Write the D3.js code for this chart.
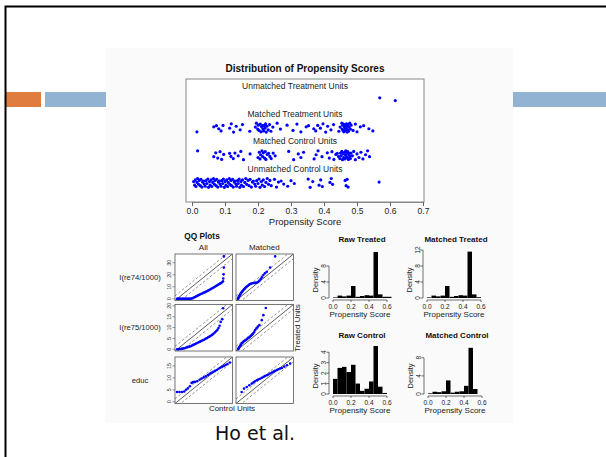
<!DOCTYPE html>
<html>
<head>
<meta charset="utf-8">
<script src="https://cdn.jsdelivr.net/npm/d3@7.9.0/dist/d3.min.js"></script>
<style>
  body { margin: 0; background: #fff; }
  svg { display: block; font-family: "Liberation Sans", Arial, Helvetica, sans-serif; }
</style>
</head>
<body>
<svg id="slide" width="606" height="457"></svg>
<script>
// ---- propensity score strip chart ----
const groupLabels = ['Unmatched Control Units', 'Matched Control Units', 'Matched Treatment Units', 'Unmatched Treatment Units'];
const scoreTicks = [0, 0.1, 0.2, 0.3, 0.4, 0.5, 0.6, 0.7];

const unmatchedTreated = [0.569, 0.616];
const matchedTreated = [0.015, 0.066, 0.074, 0.081, 0.088, 0.094, 0.114, 0.119, 0.126, 0.134, 0.146, 0.153, 0.175,
  0.192, 0.195, 0.199, 0.201, 0.203, 0.207, 0.209, 0.211, 0.213, 0.215, 0.217, 0.219, 0.221, 0.223, 0.225, 0.227,
  0.231, 0.235, 0.239, 0.245, 0.258, 0.268, 0.288, 0.306, 0.318, 0.330, 0.346, 0.353, 0.369, 0.375, 0.381, 0.389,
  0.397, 0.405, 0.411, 0.421, 0.429, 0.445, 0.449, 0.454, 0.455, 0.457, 0.458, 0.459, 0.460, 0.462, 0.463, 0.464,
  0.465, 0.466, 0.467, 0.468, 0.470, 0.471, 0.472, 0.473, 0.474, 0.476, 0.478, 0.480, 0.482, 0.488, 0.495, 0.500,
  0.510, 0.520, 0.536, 0.548];
const matchedControl = [0.017, 0.066, 0.072, 0.078, 0.085, 0.090, 0.096, 0.114, 0.118, 0.125, 0.130, 0.140, 0.148,
  0.156, 0.176, 0.200, 0.204, 0.206, 0.208, 0.212, 0.214, 0.216, 0.220, 0.222, 0.224, 0.228, 0.232, 0.236, 0.240,
  0.246, 0.252, 0.293, 0.308, 0.322, 0.330, 0.338, 0.370, 0.376, 0.382, 0.394, 0.410, 0.416, 0.424, 0.430, 0.436,
  0.440, 0.444, 0.448, 0.450, 0.452, 0.454, 0.456, 0.458, 0.460, 0.462, 0.463, 0.465, 0.466, 0.468, 0.469, 0.471,
  0.472, 0.474, 0.475, 0.477, 0.478, 0.480, 0.482, 0.486, 0.490, 0.495, 0.500, 0.506, 0.512, 0.518, 0.526, 0.532, 0.538];
const unmatchedControl = [0.005, 0.008, 0.010, 0.012, 0.015, 0.017, 0.020, 0.022, 0.025, 0.027, 0.030, 0.032, 0.035,
  0.037, 0.040, 0.042, 0.045, 0.048, 0.050, 0.053, 0.055, 0.058, 0.060, 0.063, 0.065, 0.068, 0.070, 0.073, 0.075,
  0.078, 0.080, 0.083, 0.085, 0.088, 0.090, 0.093, 0.095, 0.098, 0.100, 0.103, 0.105, 0.108, 0.110, 0.113, 0.115,
  0.118, 0.120, 0.123, 0.125, 0.128, 0.130, 0.133, 0.135, 0.138, 0.140, 0.143, 0.145, 0.148, 0.150, 0.153, 0.156,
  0.160, 0.163, 0.166, 0.170, 0.173, 0.176, 0.180, 0.183, 0.186, 0.190, 0.193, 0.196, 0.200, 0.203, 0.206, 0.210,
  0.213, 0.216, 0.220, 0.224, 0.228, 0.232, 0.236, 0.240, 0.250, 0.256, 0.262, 0.270, 0.278, 0.290, 0.300, 0.310,
  0.352, 0.358, 0.366, 0.385, 0.390, 0.395, 0.418, 0.422, 0.426, 0.464, 0.467, 0.470, 0.473, 0.567];
// vertical jitter of the strip points, in row units
const jitter = [-0.12, 0.08, -0.02, 0.14, -0.16, 0.05, -0.08, 0.11, -0.13, 0.02, 0.16, -0.05, 0.09, -0.1, 0.13, -0.15, 0.03, 0.07, -0.04];

// ---- QQ plots: [control quantile, treated quantile] ----
const qqVars = ['I(re74/1000)', 'I(re75/1000)', 'educ'];
const qqColumns = ['All', 'Matched'];
const qqLimits = [[-1.4, 37.2], [-0.8, 20.6], [-0.72, 18.72]];
const qqTicks = [[0, 10, 20, 30], [0, 5, 10, 15, 20], [0, 5, 10, 15]];
const qqAllRe74 = [[0, 0], [0.5, 0], [1, 0], [1.5, 0], [2, 0], [2.6, 0], [3.2, 0], [3.8, 0], [4.4, 0], [5, 0], [5.6, 0],
  [6.2, 0], [6.8, 0], [7.4, 0], [8, 0], [8.6, 0], [9.2, 0], [9.8, 0.2], [10.5, 0.5], [11.2, 1], [12, 1.5], [12.8, 2],
  [13.6, 2.5], [14.4, 3], [15.2, 3.5], [16, 4], [16.8, 4.4], [17.6, 4.9], [18.4, 5.3], [19.2, 5.8], [20, 6.3], [20.8, 6.8],
  [21.6, 7.3], [22.4, 7.9], [23.2, 8.5], [24, 9], [24.8, 9.6], [25.6, 10.2], [26.4, 10.8], [27.2, 11.4], [28, 12],
  [28.8, 12.6], [29.5, 13.1], [30.2, 13.8], [30.8, 14.6], [31, 16.9], [31.2, 20.3], [31.4, 25.9], [31.4, 35.2]];
const qqMatchedRe74 = [[0, 0], [0, 0.3], [0.2, 0.8], [0.5, 1.5], [0.8, 2.2], [1.1, 3], [1.5, 3.8], [1.9, 4.6], [2.4, 5.5],
  [2.9, 6.3], [3.4, 7.1], [4, 7.9], [4.6, 8.7], [5.2, 9.5], [5.9, 10.2], [6.6, 10.9], [7.3, 11.6], [8, 12.2], [8.8, 12.6],
  [9.6, 12.9], [10.4, 13.1], [11.2, 13.2], [12, 13.3], [12.8, 13.6], [13.6, 14.1], [14.4, 15.2], [15.2, 16.4], [16, 17.8],
  [17, 19.7], [18, 21.2], [19.3, 22.5], [21.5, 25.9], [24.9, 35.2]];
const qqAllRe75 = [[0, 0], [0.3, 0], [0.6, 0], [0.9, 0.1], [1.2, 0.1], [1.6, 0.2], [2, 0.3], [2.5, 0.4], [3, 0.6], [3.5, 0.8],
  [4, 1], [4.5, 1.2], [5, 1.4], [5.5, 1.7], [6, 2], [6.5, 2.3], [7, 2.6], [7.5, 2.9], [8, 3.2], [8.5, 3.5], [9, 3.8],
  [9.5, 4.1], [10, 4.4], [10.5, 4.8], [11, 5.1], [11.5, 5.5], [12, 5.8], [12.5, 6.2], [13, 6.6], [13.5, 7.1], [14, 7.7],
  [14.5, 8.3], [15, 9], [15.4, 9.8], [15.8, 10.8], [16.2, 12.6], [16.8, 13.8], [17.1, 18.9]];
const qqMatchedRe75 = [[0, 0], [0.1, 0.3], [0.3, 0.7], [0.5, 1.1], [0.8, 1.6], [1, 2.1], [1.3, 2.6], [1.6, 3], [1.9, 3.4],
  [2.3, 3.8], [2.7, 4.1], [3.1, 4.5], [3.5, 4.9], [3.9, 5.3], [4.3, 5.7], [4.7, 6.1], [5.1, 6.6], [5.5, 7.1], [5.9, 7.8],
  [6.3, 8.8], [6.8, 9.6], [7.3, 10.4], [7.9, 11.1], [8.8, 13.4], [9.4, 15.7], [10.3, 19]];
const qqAllEduc = [[0, 4.1], [0.8, 4.1], [1.6, 4.1], [2.4, 4.3], [3, 5], [3.6, 5.6], [4.3, 6.5], [4.9, 7.9], [5.4, 8.2],
  [6, 8.3], [6.8, 8.6], [7.6, 9.2], [8.3, 9.7], [9, 10.2], [9.7, 10.6], [10.4, 11.2], [11, 11.7], [11.6, 12.1], [12.2, 12.5],
  [12.8, 12.9], [13.4, 13.3], [14, 13.8], [14.6, 14.2], [15.2, 14.6], [15.8, 15], [16.4, 15.4], [17, 15.8], [17.8, 16.4]];
const qqMatchedEduc = [[1.2, 4.1], [2, 5.5], [2.9, 6.2], [3.8, 6.9], [4.6, 7.6], [5.2, 8.1], [5.7, 8.6], [6.3, 9], [6.8, 9.3],
  [7.4, 9.6], [8, 10], [8.6, 10.4], [9.1, 10.8], [9.7, 11.1], [10.2, 11.4], [10.8, 11.8], [11.4, 12.2], [12, 12.6],
  [12.5, 12.9], [13.1, 13.3], [13.6, 13.6], [14.2, 13.9], [14.8, 14.1], [15.6, 14.7], [16.5, 15.3], [17.6, 16]];
const qqData = [[qqAllRe74, qqMatchedRe74], [qqAllRe75, qqMatchedRe75], [qqAllEduc, qqMatchedEduc]];

// ---- histograms (density per 0.05 bin, starting at 0) ----
const histTitles = ['Raw Treated', 'Matched Treated', 'Raw Control', 'Matched Control'];
const binWidth = 0.05;
const rawTreatedDensity = [0.15, 0.6, 0.4, 0.6, 3.0, 0.3, 0.5, 0.7, 0.6, 11.5, 0.9, 0.3, 0.3];
const matchedTreatedDensity = [0.15, 0.6, 0.4, 0.6, 3.0, 0.3, 0.5, 0.7, 0.6, 11.6, 0.9, 0.2];
const rawControlDensity = [1.45, 2.5, 2.6, 2.1, 2.8, 1.0, 0.3, 0.5, 1.2, 4.6, 0.7, 0.1];
const matchedControlDensity = [0.15, 0.5, 0.4, 0.6, 3.0, 0.3, 0.5, 0.6, 1.8, 10.2, 1.1];
const histDensities = [rawTreatedDensity, matchedTreatedDensity, rawControlDensity, matchedControlDensity];
const histYTicks = [[0, 4, 8], [0, 4, 8, 12], [0, 1, 2, 3, 4], [0, 4, 8]];
const histYMax = [12, 12, 4.6, 10.6];
const histXTicks = [0, 0.2, 0.4, 0.6];

const svg = d3.select('#slide');
const blue = '#0000ff';

// slide frame and decorations
svg.append('rect').attr('x', 106).attr('y', 48).attr('width', 407).attr('height', 375).attr('fill', '#fafafa');
svg.append('rect').attr('x', 6).attr('y', 92).attr('width', 35).attr('height', 15).attr('fill', '#e07c3e');
svg.append('rect').attr('x', 45).attr('y', 92).attr('width', 61).attr('height', 15).attr('fill', '#93b3d3');
svg.append('rect').attr('x', 513).attr('y', 92).attr('width', 93).attr('height', 15).attr('fill', '#93b3d3');
svg.append('path').attr('d', 'M5.5,457V6.5H606').attr('fill', 'none').attr('stroke', '#000').attr('stroke-width', 2);

// ---------- strip chart ----------
const box = { left: 186, right: 424, top: 79, bottom: 202 };
const x = d3.scaleLinear().domain([0, 0.7]).range([192, 423]);
const y = d3.scaleLinear().domain([0.31, 4.76]).range([box.bottom, box.top]);
const groups = [
  { label: groupLabels[0], values: unmatchedControl, row: 1 },
  { label: groupLabels[1], values: matchedControl, row: 2 },
  { label: groupLabels[2], values: matchedTreated, row: 3 },
  { label: groupLabels[3], values: unmatchedTreated, row: 4 },
];

svg.append('rect')
  .attr('x', box.left).attr('y', box.top)
  .attr('width', box.right - box.left).attr('height', box.bottom - box.top)
  .attr('fill', '#fff').attr('stroke', '#888');

svg.append('text')
  .attr('x', 305).attr('y', 68).attr('text-anchor', 'middle').attr('dominant-baseline', 'central')
  .attr('font-size', 10).attr('font-weight', 'bold').attr('fill', '#111')
  .text('Distribution of Propensity Scores');

groups.forEach(g => {
  svg.append('text')
    .attr('x', 295).attr('y', y(g.row + 0.5))
    .attr('text-anchor', 'middle').attr('dominant-baseline', 'central')
    .attr('font-size', 8.5).attr('fill', '#222')
    .text(g.label);

  svg.append('g').selectAll('circle')
    .data(g.values)
    .join('circle')
    .attr('cx', d => x(d))
    .attr('cy', (d, i) => y(g.row + jitter[(i + g.row * 5) % jitter.length]))
    .attr('r', 1.6)
    .attr('fill', blue);
});

const xAxis = svg.append('g')
  .attr('transform', `translate(0,${box.bottom})`)
  .call(d3.axisBottom(x).tickValues(scoreTicks).tickSize(4).tickSizeOuter(0).tickFormat(d3.format('.1f')));
xAxis.select('.domain').attr('stroke', '#888');
xAxis.selectAll('.tick line').attr('stroke', '#666');
xAxis.selectAll('.tick text').attr('font-size', 8.5).attr('fill', '#222').attr('dy', '0.55em');

svg.append('text')
  .attr('x', 305).attr('y', 221).attr('text-anchor', 'middle').attr('dominant-baseline', 'central')
  .attr('font-size', 9.5).attr('fill', '#222')
  .text('Propensity Score');

// ---------- QQ plots ----------
const qqLefts = [175, 236];
const qqTops = [254, 304.5, 357];
const qqW = 57.5, qqH = 46.5;

svg.append('text').attr('x', 202).attr('y', 236).attr('text-anchor', 'middle').attr('dominant-baseline', 'central')
  .attr('font-size', 8.3).attr('font-weight', 'bold').attr('fill', '#111').text('QQ Plots');
qqColumns.forEach((c, ci) => {
  svg.append('text').attr('x', qqLefts[ci] + qqW / 2 - 0.5).attr('y', 247)
    .attr('text-anchor', 'middle').attr('dominant-baseline', 'central')
    .attr('font-size', 8).attr('fill', '#222').text(c);
});

qqVars.forEach((v, ri) => {
  const top = qqTops[ri];
  svg.append('text').attr('x', 140).attr('y', top + qqH / 2)
    .attr('text-anchor', 'middle').attr('dominant-baseline', 'central')
    .attr('font-size', 7.6).attr('fill', '#222').text(v);

  qqColumns.forEach((c, ci) => {
    const left = qqLefts[ci];
    const [lo, hi] = qqLimits[ri];
    const qx = d3.scaleLinear().domain([lo, hi]).range([left, left + qqW]);
    const qy = d3.scaleLinear().domain([lo, hi]).range([top + qqH, top]);
    const clipId = `qq-${ri}-${ci}`;
    svg.append('clipPath').attr('id', clipId)
      .append('rect').attr('x', left).attr('y', top).attr('width', qqW).attr('height', qqH);
    const g = svg.append('g');
    g.append('rect').attr('x', left).attr('y', top).attr('width', qqW).attr('height', qqH)
      .attr('fill', '#fff');
    const inner = g.append('g').attr('clip-path', `url(#${clipId})`);
    const off = 0.1 * (hi - lo);
    [-off, off].forEach(o => {
      inner.append('line')
        .attr('x1', qx(lo)).attr('y1', qy(lo + o))
        .attr('x2', qx(hi)).attr('y2', qy(hi + o))
        .attr('stroke', '#777').attr('stroke-width', 0.8).attr('stroke-dasharray', '2.5,2');
    });
    inner.append('line')
      .attr('x1', qx(lo)).attr('y1', qy(lo)).attr('x2', qx(hi)).attr('y2', qy(hi))
      .attr('stroke', '#333').attr('stroke-width', 0.8);
    inner.selectAll('circle')
      .data(qqData[ri][ci])
      .join('circle')
      .attr('cx', d => qx(d[0]))
      .attr('cy', d => qy(d[1]))
      .attr('r', 1.3)
      .attr('fill', blue);
    g.append('rect').attr('x', left).attr('y', top).attr('width', qqW).attr('height', qqH)
      .attr('fill', 'none').attr('stroke', '#555').attr('stroke-width', 0.8);

    if (ci === 0) {
      qqTicks[ri].forEach(t => {
        g.append('line').attr('x1', left).attr('x2', left - 2.5).attr('y1', qy(t)).attr('y2', qy(t))
          .attr('stroke', '#555').attr('stroke-width', 0.6);
        g.append('text')
          .attr('transform', `translate(${left - 6.5},${qy(t)}) rotate(-90)`)
          .attr('text-anchor', 'middle').attr('dominant-baseline', 'central')
          .attr('font-size', 5.5).attr('fill', '#333')
          .text(t);
      });
    }
  });
});

svg.append('text').attr('x', 232).attr('y', 408).attr('text-anchor', 'middle').attr('dominant-baseline', 'central')
  .attr('font-size', 8).attr('fill', '#222').text('Control Units');
svg.append('text').attr('transform', 'translate(297.5,328) rotate(-90)')
  .attr('text-anchor', 'middle').attr('dominant-baseline', 'central')
  .attr('font-size', 8).attr('fill', '#222').text('Treated Units');

// ---------- histograms ----------
const histPanels = [
  { x0: 333, bottom: 298 },
  { x0: 427, bottom: 298 },
  { x0: 333, bottom: 394 },
  { x0: 428, bottom: 394 },
];
const histW = 54, histH = 48;

histPanels.forEach((p, hi) => {
  const hx = d3.scaleLinear().domain([0, 0.6]).range([p.x0, p.x0 + histW]);
  const hy = d3.scaleLinear().domain([0, histYMax[hi]]).range([p.bottom, p.bottom - histH]);
  const g = svg.append('g');

  g.append('text').attr('x', hx(0.3) + 2).attr('y', p.bottom - 58.5)
    .attr('text-anchor', 'middle').attr('dominant-baseline', 'central')
    .attr('font-size', 8).attr('font-weight', 'bold').attr('fill', '#111').text(histTitles[hi]);

  g.selectAll('rect.bar')
    .data(histDensities[hi])
    .join('rect')
    .attr('class', 'bar')
    .attr('x', (d, i) => hx(i * binWidth))
    .attr('width', (d, i) => hx((i + 1) * binWidth) - hx(i * binWidth))
    .attr('y', d => hy(d))
    .attr('height', d => hy(0) - hy(d))
    .attr('fill', '#000');

  // y axis
  const yt = histYTicks[hi];
  const ax = p.x0 - 4;
  g.append('line').attr('x1', ax).attr('x2', ax).attr('y1', hy(yt[0])).attr('y2', hy(yt[yt.length - 1]))
    .attr('stroke', '#333').attr('stroke-width', 0.7);
  yt.forEach(t => {
    g.append('line').attr('x1', ax).attr('x2', ax - 2.5).attr('y1', hy(t)).attr('y2', hy(t))
      .attr('stroke', '#333').attr('stroke-width', 0.7);
    g.append('text').attr('transform', `translate(${ax - 5.5},${hy(t)}) rotate(-90)`)
      .attr('text-anchor', 'middle').attr('dominant-baseline', 'central')
      .attr('font-size', 6.5).attr('fill', '#222').text(t);
  });
  g.append('text').attr('transform', `translate(${ax - 13.5},${p.bottom - 18}) rotate(-90)`)
    .attr('text-anchor', 'middle').attr('dominant-baseline', 'central')
    .attr('font-size', 7.5).attr('fill', '#222').text('Density');

  // x axis
  const axisY = p.bottom + 2;
  g.append('line').attr('x1', hx(0)).attr('x2', hx(0.6)).attr('y1', axisY).attr('y2', axisY)
    .attr('stroke', '#333').attr('stroke-width', 0.7);
  histXTicks.forEach(t => {
    g.append('line').attr('x1', hx(t)).attr('x2', hx(t)).attr('y1', axisY).attr('y2', axisY + 2)
      .attr('stroke', '#333').attr('stroke-width', 0.7);
    g.append('text').attr('x', hx(t)).attr('y', p.bottom + 8.5)
      .attr('text-anchor', 'middle').attr('dominant-baseline', 'central')
      .attr('font-size', 6.5).attr('fill', '#222').text(d3.format('.1f')(t));
  });
  g.append('text').attr('x', hx(0.3)).attr('y', p.bottom + 16.5)
    .attr('text-anchor', 'middle').attr('dominant-baseline', 'central')
    .attr('font-size', 8).attr('fill', '#222').text('Propensity Score');
});

// citation
svg.append('text').attr('x', 215).attr('y', 440)
  .attr('font-family', '"DejaVu Sans", sans-serif').attr('font-size', 19).attr('fill', '#111')
  .text('Ho et al.');
</script>
</body>
</html>
